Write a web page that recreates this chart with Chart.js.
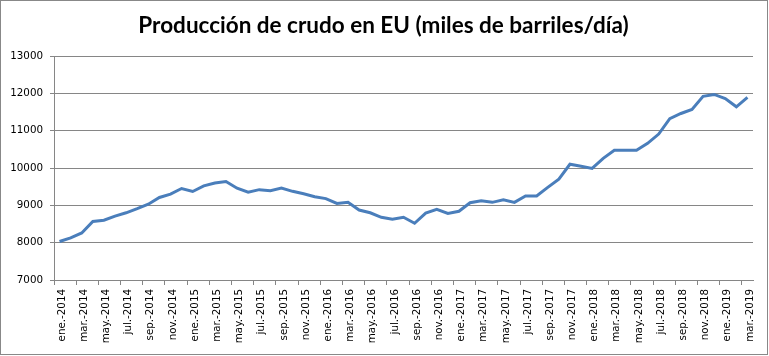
<!DOCTYPE html>
<html>
<head>
<meta charset="utf-8">
<script src="https://cdn.jsdelivr.net/npm/chart.js@4/dist/chart.umd.min.js"></script>
<style>
  html, body { margin: 0; padding: 0; background: #fff; }
  #wrap { width: 769px; height: 356px; position: relative; }
</style>
</head>
<body>
<div id="wrap"><canvas id="c" width="769" height="356"></canvas></div>
<script>
const chartTitle = "Producción de crudo en EU (miles de barriles/día)";
const monthNames = ["ene.", "feb.", "mar.", "abr.", "may.", "jun.", "jul.", "ago.", "sep.", "oct.", "nov.", "dic."];
const years = [2014, 2015, 2016, 2017, 2018, 2019];
const categories = [];
years.forEach(y => monthNames.forEach((m, i) => {
  if (y < 2019 || i < 3) categories.push(m + "-" + y);
}));
const production = [
  8030, 8130, 8260, 8570, 8600, 8710, 8800, 8910, 9030, 9210, 9300, 9450,
  9370, 9520, 9600, 9640, 9460, 9350, 9420, 9390, 9460, 9375, 9310, 9230,
  9180, 9050, 9080, 8875, 8800, 8680, 8625, 8680, 8520, 8790, 8890, 8785,
  8840, 9070, 9125, 9080, 9150, 9080, 9250, 9250, 9480, 9700, 10100, 10045,
  9990, 10260, 10475, 10475, 10475, 10660, 10910, 11320, 11460, 11570, 11920, 11970,
  11860, 11640, 11890
];
const yTicks = { min: 7000, max: 13000, step: 1000 };

const gridGray = "#868686";
Chart.defaults.font.family = "DejaVu Sans";

const borderPlugin = {
  id: "outerBorder",
  afterLayout(chart) {
    // let the y tick labels use the space left of the axis box (no clipping)
    chart.scales.y.left = 0;
  },
  afterDraw(chart) {
    const ctx = chart.ctx;
    ctx.save();
    ctx.strokeStyle = "#888888";
    ctx.lineWidth = 1;
    ctx.strokeRect(0.5, 0.5, 767, 354);
    ctx.restore();
  }
};

new Chart(document.getElementById("c"), {
  type: "line",
  data: {
    labels: categories,
    datasets: [{
      data: production,
      borderColor: "#4a7ebb",
      borderWidth: 3,
      pointRadius: 0,
      tension: 0,
      fill: false
    }]
  },
  options: {
    responsive: false,
    animation: false,
    layout: { padding: { left: 14, right: 16, top: 0, bottom: 0 } },
    plugins: {
      legend: { display: false },
      tooltip: { enabled: false },
      title: {
        display: true,
        text: chartTitle,
        color: "#000",
        font: { family: "Lato", size: 22.5, weight: "bold", lineHeight: 1.2 },
        padding: { top: 12, bottom: 17 }
      }
    },
    scales: {
      x: {
        type: "category",
        offset: true,
        afterFit(scale) { scale.height = 76; },
        grid: {
          offset: true,
          drawOnChartArea: false,
          drawTicks: true,
          tickLength: 5,
          color: ctx => (ctx.index % 2 === 0 ? gridGray : "rgba(0,0,0,0)")
        },
        border: { display: true, color: gridGray },
        ticks: {
          autoSkip: false,
          minRotation: 90,
          maxRotation: 90,
          padding: 4,
          labelOffset: 2.5,
          color: "#000",
          font: { family: "DejaVu Sans", size: 10.3 },
          callback(value, index) { return index % 2 === 0 ? categories[index] : ""; }
        }
      },
      y: {
        min: yTicks.min,
        max: yTicks.max,
        afterFit(scale) { scale.width = 40; },
        grid: { color: gridGray, drawTicks: true, tickLength: 4 },
        border: { display: true, color: gridGray },
        ticks: {
          stepSize: yTicks.step,
          padding: 7,
          color: "#000",
          font: { family: "DejaVu Sans", size: 10.3 },
          callback(value) { return String(value); }
        }
      }
    }
  },
  plugins: [borderPlugin]
});
</script>
</body>
</html>
